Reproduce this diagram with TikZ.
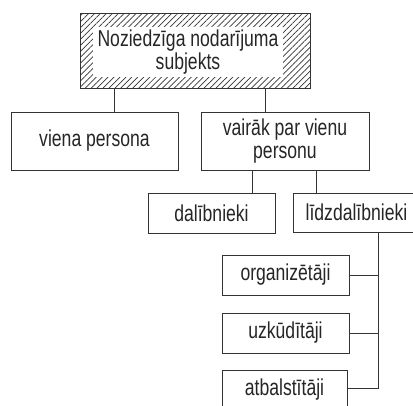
\documentclass[tikz,border=0pt]{standalone}
\usepackage{fontspec}
\setmainfont{Liberation Sans}[FakeStretch=0.765]
\usetikzlibrary{patterns.meta,calc}
\tikzset{
  box/.style={draw=black!80, line width=0.9pt, fill=white, align=center, inner sep=0pt,
    font=\fontsize{23}{23}\selectfont, text=black!85},
  conn/.style={draw=black!80, line width=0.9pt},
}
\begin{document}
\begin{tikzpicture}[x=1pt,y=-1pt]
\useasboundingbox (0,0) rectangle (413,405);
\clip (0,0) rectangle (413,405);
\node[box, minimum width=230pt, minimum height=75pt,
  pattern={Lines[angle=45,distance=4.2pt,line width=0.7pt]}, pattern color=black!80] (top) at (195,50.5) {};
\node[box, draw=none, minimum width=190pt, minimum height=50pt] (toptext) at (188,52)
  {Noziedzīga nodarījuma\\subjekts};
\node[box, minimum width=167pt, minimum height=58pt] (viena) at (94.5,141) {viena persona};
\node[box, minimum width=168pt, minimum height=58pt] (vairak) at (285,141) {vairāk par vienu\\personu};
\node[box, minimum width=127pt, minimum height=40pt] (dal) at (211.5,213) {dalībnieki};
\node[box, minimum width=127pt, minimum height=39pt] (lidz) at (356.5,212.5) {līdzdalībnieki};
\node[box, minimum width=127pt, minimum height=40pt] (org) at (285.5,275) {organizētāji};
\node[box, minimum width=127pt, minimum height=40pt] (uzk) at (285.5,333) {uzkūdītāji};
\node[box, minimum width=125pt, minimum height=40pt] (atb) at (284.5,390) {atbalstītāji};
\coordinate (xa) at (114,0);
\coordinate (xb) at (265,0);
\coordinate (xc) at (252,0);
\coordinate (xd) at (316,0);
\coordinate (bus) at (378,0);
\draw[conn] (top.south -| xa) -- (viena.north -| xa);
\draw[conn] (top.south -| xb) -- (vairak.north -| xb);
\draw[conn] (vairak.south -| xc) -- (dal.north -| xc);
\draw[conn] (vairak.south -| xd) -- (lidz.north -| xd);
\draw[conn] (lidz.south -| bus) -- ($(atb.east -| bus)+(0,-2)$) -- ($(atb.east)+(0,-2)$);
\draw[conn] (org.east) -- (org.east -| bus);
\draw[conn] (uzk.east) -- (uzk.east -| bus);
\end{tikzpicture}
\end{document}
